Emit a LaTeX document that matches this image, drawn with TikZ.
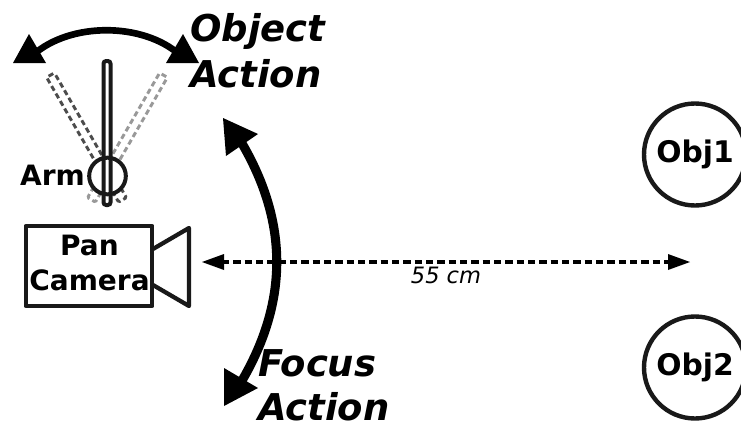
\documentclass[tikz,border=0pt]{standalone}
\usepackage{fontspec}
\setmainfont{DejaVu Sans}
\usetikzlibrary{calc}
\definecolor{ink}{gray}{0.1}
\tikzset{
  x=0.75pt,y=-0.75pt,
  objcircle/.style={circle,draw=ink,line width=3.3pt,minimum size=76.5pt,inner sep=0pt,font=\bfseries\fontsize{22.3}{26}\selectfont},
  lbl/.style={inner sep=0pt,anchor=base,align=center,font=\bfseries\fontsize{21}{26}\selectfont},
  actlbl/.style={inner sep=0pt,anchor=base west,font=\bfseries\itshape\fontsize{27.7}{34}\selectfont},
  bigtip/.style={fill=black,draw=none},
  bigarc/.style={draw=black,line cap=butt},
  armbar/.style={draw=ink,line width=3pt,rounded corners=2pt},
  ghostbar/.style={line width=2.2pt,dash pattern=on 4pt off 2.5pt,rounded corners=1pt},
  camline/.style={draw=ink,line width=3.2pt,line join=round},
  distline/.style={draw=black,line width=2.4pt,dash pattern=on 5.5pt off 3pt},
}
\begin{document}
\begin{tikzpicture}
\useasboundingbox (0,0) rectangle (741,421);
\clip (0,0) rectangle (741,421);
% ghost arms
\begin{scope}[rotate around={30:(107,173)}]
  \draw[ghostbar,draw=black!70] (102.5,60) rectangle (111.5,204);
\end{scope}
\begin{scope}[rotate around={-30:(107,173)}]
  \draw[ghostbar,draw=black!40] (102.5,60) rectangle (111.5,204);
\end{scope}
% joint and arm
\node[circle,draw=ink,line width=3pt,fill=white,minimum size=27.5pt,inner sep=0pt] (joint) at (107.5,176) {};
\draw[armbar] (103.5,61) rectangle (110.5,205);
\node[lbl,anchor=base east] (arm) at (85,185) {Arm};
% object action arc
\coordinate (oa) at (33,55);
\coordinate (ob) at (180,55);
\draw[bigarc,line width=5pt] (oa) .. controls (70,22) and (143,22) .. (ob);
\fill[bigtip] (29,34) -- (46,63) -- (13,63) -- cycle;
\fill[bigtip] (183,34) -- (199,63) -- (166,63) -- cycle;
\node[actlbl] (t1) at (190,41) {Object};
\node[actlbl] (t2) at (190,87) {Action};
% camera
\node[camline,draw,minimum width=95pt,minimum height=60pt,inner sep=0pt] (cam) at (89,266) {};
\node[lbl] (pan) at (89.5,255) {Pan};
\node[lbl] (camera) at (89.5,290) {Camera};
\draw[camline] (153,249) -- (189,228) -- (189,306) -- (153,285);
% focus action arc
\coordinate (fa) at (240,140);
\coordinate (fb) at (240,384);
\draw[bigarc,line width=6.8pt] (fa) .. controls (289,222) and (289,302) .. (fb);
\fill[bigtip] (223,118) -- (258,134) -- (226,156) -- cycle;
\fill[bigtip] (224,406) -- (258,388) -- (224,368) -- cycle;
\node[actlbl] (t3) at (258,376) {Focus};
\node[actlbl] (t4) at (258,420) {Action};
% distance
\coordinate (da) at (222,262);
\coordinate (db) at (670,262);
\draw[distline] (da) -- (db);
\fill[bigtip] (202,262) -- (224,254) -- (224,270) -- cycle;
\fill[bigtip] (690,262) -- (668,254) -- (668,270) -- cycle;
\node[inner sep=0pt,anchor=base,font=\itshape\fontsize{16.9}{20}\selectfont] (dist) at (446,283) {55 cm};
% objects
\node[objcircle] (obj1) at (695,154.5) {Obj1};
\node[objcircle] (obj2) at (695,367.5) {Obj2};
\end{tikzpicture}
\end{document}
